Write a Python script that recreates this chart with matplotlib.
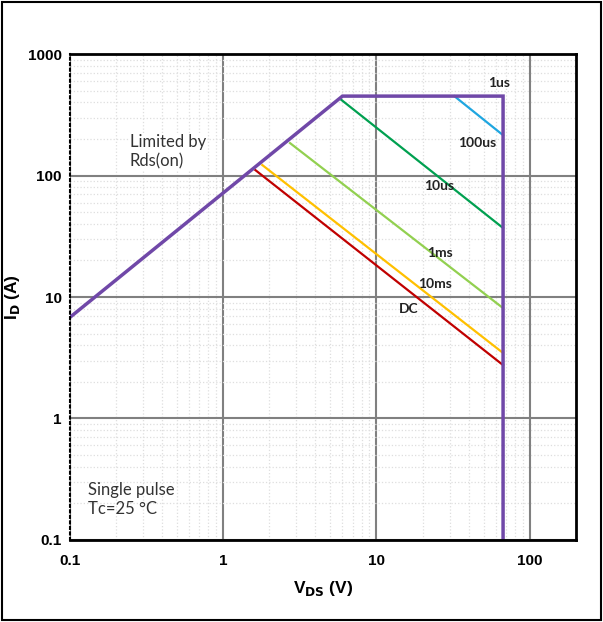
import matplotlib
matplotlib.use('Agg')
import matplotlib.pyplot as plt
from matplotlib.patches import Rectangle
from matplotlib.ticker import LogLocator, FixedLocator, NullFormatter

# SOA curve data (V_DS in V, I_D in A)
rds_v = [0.1, 6.0, 67, 67]
rds_i = [6.8, 451, 451, 0.1]
us1_v = [32.2, 67]
us1_i = [451, 215]
us10_v = [5.9, 67]
us10_i = [420, 37]
ms1_v = [2.73, 67]
ms1_i = [185, 8.1]
ms10_v = [1.80, 67]
ms10_i = [122, 3.46]
dc_v = [1.62, 67]
dc_i = [111, 2.75]

curve_labels = ['1us', '100us', '10us', '1ms', '10ms', 'DC']
label_v = [63, 45.5, 25.7, 25.9, 24.2, 16.2]
label_i = [577, 185, 82, 23, 12.8, 8.0]

x_ticks = [0.1, 1, 10, 100]
x_ticklabels = ['0.1', '1', '10', '100']
y_ticks = [0.1, 1, 10, 100, 1000]
y_ticklabels = ['0.1', '1', '10', '100', '1000']

fig = plt.figure(figsize=(6.03, 6.22), dpi=100)
ax = fig.add_axes([0.116, 0.132, 0.839, 0.781])
ax.set_xscale('log')
ax.set_yscale('log')
ax.set_xlim(0.1, 200)
ax.set_ylim(0.1, 1000)

# grids
ax.xaxis.set_major_locator(FixedLocator(x_ticks))
ax.yaxis.set_major_locator(FixedLocator(y_ticks))
ax.xaxis.set_minor_locator(LogLocator(base=10, subs=range(2, 10)))
ax.yaxis.set_minor_locator(LogLocator(base=10, subs=range(2, 10)))
ax.xaxis.set_minor_formatter(NullFormatter())
ax.yaxis.set_minor_formatter(NullFormatter())
ax.grid(True, which='minor', color='#dedede', lw=0.9, ls=':')
ax.grid(True, which='major', color='#808080', lw=1.5, ls='-')
ax.set_axisbelow(True)

ax.plot(ms1_v, ms1_i, color='#92D050', lw=1.6)
ax.plot(ms10_v, ms10_i, color='#FFC000', lw=1.6)
ax.plot(dc_v, dc_i, color='#C00000', lw=1.6)
ax.plot(us10_v, us10_i, color='#00A050', lw=1.6)
ax.plot(us1_v, us1_i, color='#1FA6E0', lw=1.6)
ax.plot(rds_v, rds_i, color='#7048A8', lw=2.5, solid_joinstyle='miter')

for t, v, i in zip(curve_labels, label_v, label_i):
    ax.text(v, i, t, ha='center', va='center', fontsize=10, fontweight='bold',
            family='Lato', color='#222222')

ax.text(0.246, 156, 'Limited by\nRds(on)', fontsize=12, family='Lato',
        ha='left', va='center', color='#333333', linespacing=1.25,
        bbox=dict(facecolor='white', edgecolor='none', pad=1))
ax.text(0.131, 0.215, 'Single pulse\nTc=25 \u00b0C', fontsize=12, family='Lato',
        ha='left', va='center', color='#333333', linespacing=1.25)

ax.set_xticklabels(x_ticklabels)
ax.set_yticklabels(y_ticklabels)
ax.tick_params(which='both', length=0)
ax.tick_params(axis='x', pad=10)
ax.tick_params(axis='y', pad=6)
for lab in ax.get_xticklabels() + ax.get_yticklabels():
    lab.set_family('Liberation Sans')
    lab.set_fontweight('bold')
    lab.set_fontsize(11)

ax.set_xlabel('V$_{\\mathbf{DS}}$ (V)', fontsize=12.5, fontweight='bold',
              family='Liberation Sans', labelpad=8)
ax.set_ylabel('I$_{\\mathbf{D}}$ (A)', fontsize=12.5, fontweight='bold',
              family='Liberation Sans', labelpad=4)

for s in ['top', 'right', 'bottom']:
    ax.spines[s].set_linewidth(2)
    ax.spines[s].set_color('black')
ax.spines['left'].set_linestyle(':')
ax.spines['left'].set_linewidth(1.5)

fig.patches.append(Rectangle((0.004, 0.004), 0.992, 0.992, transform=fig.transFigure,
                             fill=False, edgecolor='black', lw=1.5))

fig.savefig('out.png', dpi=100)
